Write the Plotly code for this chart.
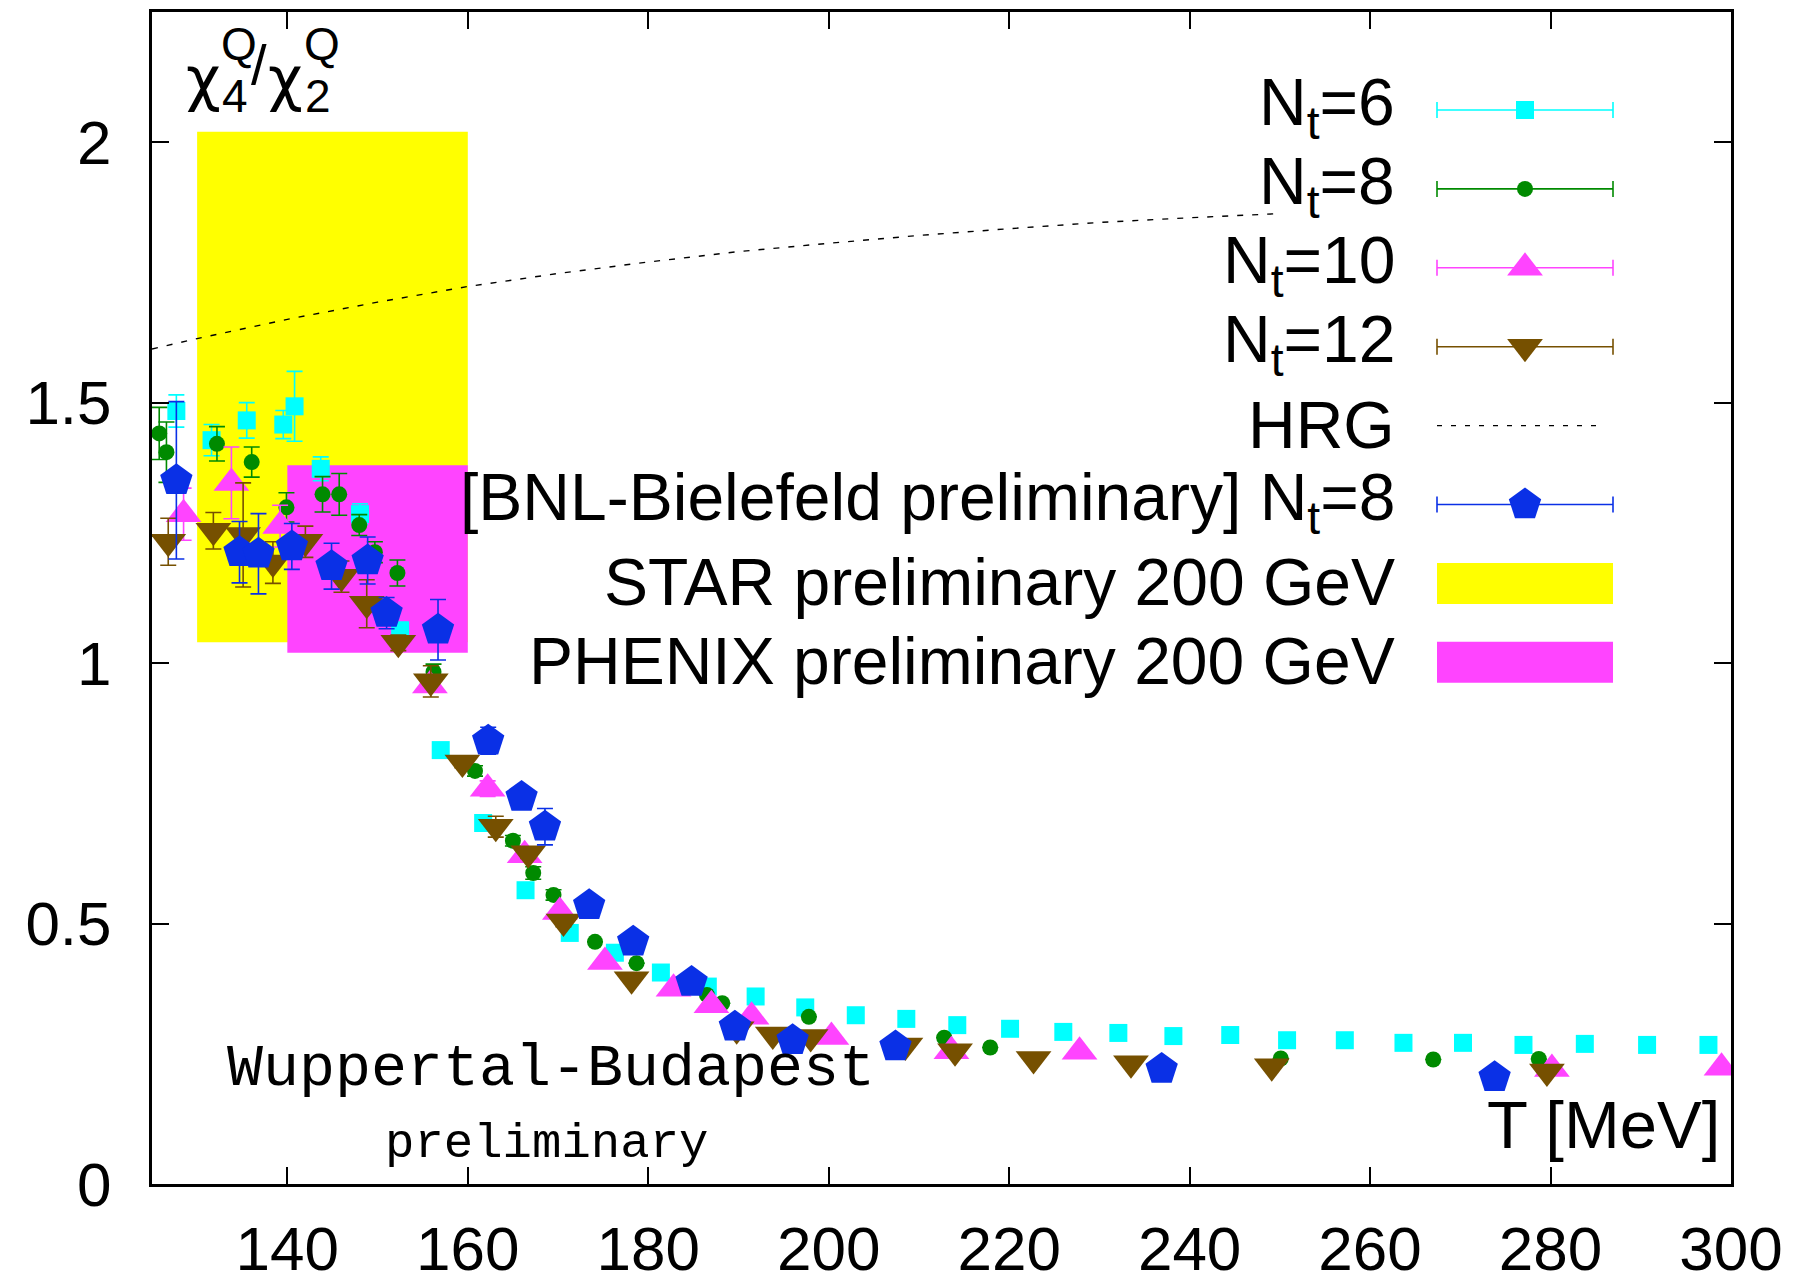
import plotly.graph_objects as go

# ---------------------------------------------------------------------------
# chi4^Q / chi2^Q of the electric charge versus temperature T [MeV]
# ---------------------------------------------------------------------------

# Wuppertal-Budapest, Nt = 6
t_nt6 = [127.7, 131.6, 135.5, 139.55, 140.8, 143.7, 148.05, 152.5, 157.0, 161.7,
         166.4, 171.3, 176.3, 181.4, 186.6, 191.9, 197.4, 203.0, 208.6, 214.25,
         220.1, 226.0, 232.1, 238.2, 244.5, 250.8, 257.2, 263.7, 270.3, 277.0,
         283.8, 290.7, 297.5]
r_nt6 = [1.484, 1.428, 1.466, 1.458, 1.493, 1.373, 1.286, 1.063, 0.833, 0.693,
         0.564, 0.482, 0.444, 0.406, 0.379, 0.360, 0.339, 0.324, 0.317, 0.305,
         0.298, 0.292, 0.290, 0.284, 0.286, 0.276, 0.276, 0.271, 0.271, 0.267,
         0.269, 0.267, 0.267]
e_nt6 = [0.031, 0.030, 0.034, 0.027, 0.067, 0.023, 0.020, 0.015, 0.0, 0.0,
         0.0, 0.0, 0.0, 0.0, 0.0, 0.0, 0.0, 0.0, 0.0, 0.0,
         0.0, 0.0, 0.0, 0.0, 0.0, 0.0, 0.0, 0.0, 0.0, 0.0,
         0.0, 0.0, 0.0]

# Wuppertal-Budapest, Nt = 8
t_nt8 = [125.8, 126.6, 132.2, 136.05, 139.9, 143.9, 145.75, 147.97, 149.7, 152.2,
         156.2, 160.8, 165.0, 167.25, 169.5, 174.1, 178.7, 186.5, 188.2, 197.8,
         212.8, 217.9, 250.1, 267.0, 278.7]
r_nt8 = [1.441, 1.405, 1.421, 1.386, 1.299, 1.324, 1.324, 1.265, 1.213, 1.173,
         0.983, 0.793, 0.659, 0.597, 0.555, 0.465, 0.424, 0.363, 0.347, 0.321,
         0.281, 0.262, 0.241, 0.239, 0.240]
e_nt8 = [0.050, 0.058, 0.033, 0.029, 0.028, 0.034, 0.040, 0.020, 0.020, 0.025,
         0.015, 0.010, 0.010, 0.012, 0.010, 0.0, 0.0, 0.0, 0.0, 0.0,
         0.0, 0.0, 0.0, 0.0, 0.0]

# Wuppertal-Budapest, Nt = 10
t_nt10 = [128.5, 133.8, 139.2, 155.8, 162.2, 166.3, 170.2, 175.2, 182.8, 187.0,
          191.45, 200.3, 213.6, 227.8, 280.15, 298.95]
r_nt10 = [1.286, 1.346, 1.263, 0.957, 0.759, 0.631, 0.522, 0.426, 0.375, 0.343,
          0.321, 0.282, 0.255, 0.254, 0.221, 0.223]
e_nt10 = [0.050, 0.069, 0.040, 0.010, 0.015, 0.010, 0.0, 0.0, 0.0, 0.0,
          0.0, 0.0, 0.0, 0.0, 0.0, 0.0]

# Wuppertal-Budapest, Nt = 12
t_nt12 = [126.8, 131.8, 135.1, 138.4, 142.0, 146.0, 148.8, 152.3, 155.9, 159.4,
          163.1, 166.7, 170.6, 178.15, 189.8, 193.8, 198.0, 208.5, 214.0, 222.7,
          233.5, 249.1, 279.6]
r_nt12 = [1.233, 1.254, 1.246, 1.193, 1.233, 1.166, 1.114, 1.039, 0.965, 0.809,
          0.686, 0.635, 0.504, 0.393, 0.297, 0.287, 0.282, 0.266, 0.255, 0.240,
          0.232, 0.226, 0.216]
e_nt12 = [0.045, 0.035, 0.100, 0.040, 0.030, 0.030, 0.046, 0.015, 0.030, 0.010,
          0.020, 0.010, 0.010, 0.0, 0.0, 0.0, 0.0, 0.0, 0.0, 0.0,
          0.0, 0.0, 0.0]

# BNL-Bielefeld preliminary, Nt = 8
t_bnl = [127.7, 134.7, 136.8, 140.5, 144.9, 148.9, 151.0, 156.7, 162.26, 165.96,
         168.55, 173.45, 178.33, 184.8, 189.6, 196.0, 207.4, 236.9, 273.8]
r_bnl = [1.351, 1.213, 1.210, 1.224, 1.186, 1.197, 1.096, 1.064, 0.851, 0.743,
         0.686, 0.535, 0.465, 0.388, 0.302, 0.276, 0.264, 0.221, 0.205]
e_bnl = [0.151, 0.059, 0.077, 0.044, 0.044, 0.045, 0.030, 0.058, 0.026, 0.015,
         0.035, 0.010, 0.010, 0.010, 0.010, 0.0, 0.0, 0.0, 0.0]

# Hadron resonance gas
t_hrg = [125, 130, 140, 150, 160, 170, 180, 190, 200, 210, 220, 230, 240, 250]
r_hrg = [1.603, 1.623, 1.660, 1.693, 1.723, 1.748, 1.770, 1.790, 1.806, 1.821,
         1.834, 1.846, 1.855, 1.863]

# Experimental bands: [T_min, T_max], [ratio_min, ratio_max]
star_t = [130, 160]
star_r = [1.04, 2.02]
phenix_t = [140, 160]
phenix_r = [1.02, 1.38]

x_ticks = [140, 160, 180, 200, 220, 240, 260, 280, 300]
y_ticks = [0, 0.5, 1, 1.5, 2]
y_tick_text = ["0", "0.5", "1", "1.5", "2"]

# ---------------------------------------------------------------------------
W, H = 1804, 1274
L, R, T, B = 152, 73, 12, 90
PX0, PX1 = L, W - R          # plot area in page pixels
PY0, PY1 = T, H - B

SANS = "Liberation Sans, Arial, Helvetica, sans-serif"
MONO = "Liberation Mono, Courier New, monospace"
GREEK = "DejaVu Sans, Noto Sans, sans-serif"

C6 = "#00FFFF"
C8 = "#008A00"
C10 = "#FF44FF"
C12 = "#765000"
CBNL = "#0A30E6"
CSTAR = "#FFFF00"
CPHENIX = "#FF44FF"

series = [
    (t_nt6, r_nt6, e_nt6, C6, "square", 18),
    (t_nt8, r_nt8, e_nt8, C8, "circle", 16),
    (t_nt10, r_nt10, e_nt10, C10, "triangle-up", 31),
    (t_nt12, r_nt12, e_nt12, C12, "triangle-down", 31),
    (t_bnl, r_bnl, e_bnl, CBNL, "pentagon", 34),
]

fig = go.Figure()

# HRG curve
fig.add_trace(go.Scatter(
    x=t_hrg, y=r_hrg, mode="lines",
    line=dict(color="black", width=1.4, dash="6px,9px"),
    hoverinfo="skip", showlegend=False,
))

for tx, ry, ey, col, sym, sz in series:
    fig.add_trace(go.Scatter(
        x=tx, y=ry, mode="markers",
        marker=dict(symbol=sym, size=sz, color=col, line=dict(width=0)),
        error_y=dict(type="data", array=ey, visible=True, color=col,
                     thickness=1.6, width=8),
        showlegend=False,
    ))

shapes = []
# experimental bands, drawn under the lattice points
shapes.append(dict(type="rect", xref="x", yref="y", layer="below",
                   x0=star_t[0], x1=star_t[1], y0=star_r[0], y1=star_r[1],
                   fillcolor=CSTAR, line=dict(width=0)))
shapes.append(dict(type="rect", xref="x", yref="y", layer="below",
                   x0=phenix_t[0], x1=phenix_t[1], y0=phenix_r[0], y1=phenix_r[1],
                   fillcolor=CPHENIX, line=dict(width=0)))

# ---------------------------------------------------------------------------
# Key (gnuplot style: text on the left, sample on the right)
# Placed on an overlay axis pair that spans the plot area in page pixels.
KEY_TEXT_X = 1397
KEY_X0, KEY_X1 = 1437, 1613
KEY_XM = (KEY_X0 + KEY_X1) / 2
KEY_Y0, KEY_DY = 110, 78.9
CAP = 8

key_rows = [
    ("N<sub>t</sub>=6", "err", C6, "square", 18),
    ("N<sub>t</sub>=8", "err", C8, "circle", 16),
    ("N<sub>t</sub>=10", "err", C10, "triangle-up", 31),
    ("N<sub>t</sub>=12", "err", C12, "triangle-down", 31),
    ("HRG", "dash", "black", None, 0),
    ("[BNL-Bielefeld preliminary] N<sub>t</sub>=8", "err", CBNL, "pentagon", 34),
    ("STAR preliminary 200 GeV", "box", CSTAR, None, 0),
    ("PHENIX preliminary 200 GeV", "box", CPHENIX, None, 0),
]

annotations = []
for i, (label, kind, col, sym, sz) in enumerate(key_rows):
    yc = KEY_Y0 + i * KEY_DY
    dy = -3 if "<sub>" in label else -1
    annotations.append(dict(
        xref="x2", yref="y2", x=KEY_TEXT_X, y=yc + dy, text=label,
        xanchor="right", yanchor="middle", showarrow=False,
        font=dict(family=SANS, size=66, color="black"),
    ))
    if kind == "err":
        shapes.append(dict(type="line", xref="x2", yref="y2", layer="below",
                           x0=KEY_X0, x1=KEY_X1, y0=yc, y1=yc,
                           line=dict(color=col, width=1.6)))
        for xe in (KEY_X0, KEY_X1):
            shapes.append(dict(type="line", xref="x2", yref="y2", layer="below",
                               x0=xe, x1=xe, y0=yc - CAP, y1=yc + CAP,
                               line=dict(color=col, width=1.6)))
        fig.add_trace(go.Scatter(
            x=[KEY_XM], y=[yc], xaxis="x2", yaxis="y2", mode="markers",
            marker=dict(symbol=sym, size=sz, color=col, line=dict(width=0)),
            hoverinfo="skip", showlegend=False,
        ))
    elif kind == "dash":
        shapes.append(dict(type="line", xref="x2", yref="y2",
                           x0=KEY_X0, x1=KEY_X1 - 10, y0=yc, y1=yc,
                           line=dict(color=col, width=1.4, dash="5px,9px")))
    else:
        shapes.append(dict(type="rect", xref="x2", yref="y2", layer="below",
                           x0=KEY_X0, x1=KEY_X1, y0=yc - 20.5, y1=yc + 20.5,
                           fillcolor=col, line=dict(width=0)))

# Axis label in the top-left corner: chi_4^Q / chi_2^Q with stacked indices
def txt(x, y, s, size, family=SANS, xanchor="center"):
    annotations.append(dict(xref="x2", yref="y2", x=x, y=y, text=s,
                            xanchor=xanchor, yanchor="middle", showarrow=False,
                            font=dict(family=family, size=size, color="black")))

txt(203, 78, "χ", 60, family=GREEK)
txt(235, 96, "4", 46)
txt(239, 44, "Q", 46)
txt(259, 64, "/", 56)
txt(285, 78, "χ", 60, family=GREEK)
txt(318, 96, "2", 46)
txt(322, 44, "Q", 46)

# x-axis title inside the frame, bottom right
txt(1722, 1124, "T [MeV]", 67, xanchor="right")

# collaboration tag
txt(551, 1069, "Wuppertal-Budapest", 60, family=MONO)
txt(546, 1144, "preliminary", 49, family=MONO)

fig.update_layout(
    width=W, height=H,
    margin=dict(l=L, r=R, t=T, b=B, pad=0, autoexpand=False),
    paper_bgcolor="white", plot_bgcolor="white",
    shapes=shapes, annotations=annotations,
    showlegend=False,
    xaxis=dict(
        range=[125, 300], tickmode="array", tickvals=x_ticks,
        ticks="inside", ticklen=17, tickwidth=2, tickcolor="black",
        showline=True, linecolor="black", linewidth=3, mirror="ticks",
        showgrid=False, zeroline=False, automargin=False,
        tickfont=dict(family=SANS, size=62, color="black"),
        ticklabelstandoff=9,
    ),
    yaxis=dict(
        range=[0, 2.25], tickmode="array", tickvals=y_ticks, ticktext=y_tick_text,
        ticks="inside", ticklen=17, tickwidth=2, tickcolor="black",
        showline=True, linecolor="black", linewidth=3, mirror="ticks",
        showgrid=False, zeroline=False, automargin=False,
        tickfont=dict(family=SANS, size=62, color="black"),
        ticklabelstandoff=25,
    ),
    xaxis2=dict(range=[PX0, PX1], overlaying="x", anchor="y2", visible=False,
                fixedrange=True, automargin=False),
    yaxis2=dict(range=[PY1, PY0], overlaying="y", anchor="x2", visible=False,
                fixedrange=True, automargin=False),
)

fig.write_html("out.html")
